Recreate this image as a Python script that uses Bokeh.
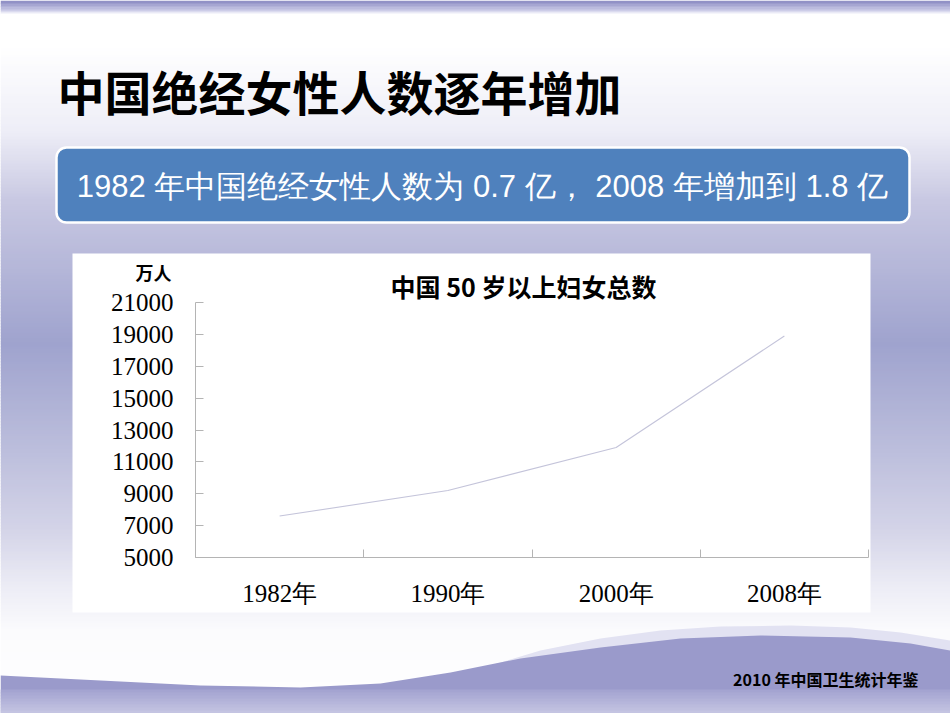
from bokeh.plotting import figure
from bokeh.models import Range1d, LinearAxis, FixedTicker
from bokeh.core.properties import value
from bokeh.embed import file_html
from bokeh.resources import INLINE

# ---------------- data ----------------
categories = ["1982年", "1990年", "2000年", "2008年"]
values = [7600, 9200, 11900, 18900]          # 万人
y_ticks = [5000, 7000, 9000, 11000, 13000, 15000, 17000, 19000, 21000]

slide_title = "中国绝经女性人数逐年增加"
banner_text = "1982 年中国绝经女性人数为 0.7 亿， 2008 年增加到 1.8 亿"
chart_title = "中国 50 岁以上妇女总数"
unit_label = "万人"
source_note = "2010 年中国卫生统计年鉴"

# ---------------- geometry (pixels) ----------------
W, H = 950, 713
FL, FR, FT, FB = 195, 868, 302, 557          # chart plot area on the slide
YMIN, YMAX = y_ticks[0], y_ticks[-1]
NCAT = len(categories)

# chart ranges extended so that the chart area lands on FL..FR / FT..FB
sx = NCAT / (FR - FL)
sy = (YMAX - YMIN) / (FB - FT)
cx = Range1d(0 - FL * sx, NCAT + (W - FR) * sx)
cy = Range1d(YMIN - (H - FB) * sy, YMAX + FT * sy)


def hex2rgb(h):
    h = h.lstrip("#")
    return tuple(int(h[i:i + 2], 16) for i in (0, 2, 4))


def mix(c1, c2, t):
    a, b = hex2rgb(c1), hex2rgb(c2)
    return "#%02x%02x%02x" % tuple(int(round(a[i] + (b[i] - a[i]) * t)) for i in range(3))


def bands(stops, step=3):
    tops, bots, cols = [], [], []
    for (y0, c0), (y1, c1) in zip(stops[:-1], stops[1:]):
        y = y0
        while y < y1:
            ye = min(y + step, y1)
            t = ((y + ye) / 2 - y0) / max(y1 - y0, 1)
            tops.append(y)
            bots.append(ye + 0.7)
            cols.append(mix(c0, c1, t))
            y = ye
    return tops, bots, cols


p = figure(width=W, height=H, output_backend="svg", toolbar_location=None,
           title=None, x_range=Range1d(0, W), y_range=Range1d(H, 0),
           x_axis_type=None, y_axis_type=None, min_border=0)
p.extra_x_ranges = {"cx": cx}
p.extra_y_ranges = {"cy": cy}
p.outline_line_color = None
p.background_fill_color = "white"
p.border_fill_color = "white"

# ---------------- slide background ----------------
bg_stops = [(0, "#8686c0"), (11, "#d4d4ec"), (13, "#ffffff"), (45, "#ffffff"),
            (130, "#eeeef7"), (200, "#c8c8e2"), (343, "#9fa3ce"), (450, "#bcbedc"),
            (530, "#d4d4e8"), (590, "#eeeef6"), (630, "#fbfbfd"), (713, "#ffffff")]
t_, b_, c_ = bands(bg_stops)
p.quad(left=0, right=W, top=t_, bottom=b_, fill_color=c_, line_color=None)

# light band above the wave (right side)
p.patch([420, 480, 540, 600, 660, 720, 790, 850, 900, 950, 950, 420],
        [690, 668, 650, 638, 630, 626, 625, 627, 632, 640, 713, 713],
        fill_color="#e2e2f2", line_color=None)
# purple wave
p.patch([0, 100, 200, 300, 380, 450, 520, 600, 680, 760, 850, 910, 950, 950, 0],
        [675, 680, 685, 687, 683, 672, 658, 647, 638, 635, 637, 643, 650, 713, 713],
        fill_color="#9a9acb", line_color=None)
t_, b_, c_ = bands([(689, "#a2a2d0"), (713, "#c6c6e3")])
p.quad(left=0, right=W, top=t_, bottom=b_, fill_color=c_, line_color=None)

# white chart panel
p.quad(left=72, right=870, top=253, bottom=612, fill_color="white", line_color=None)

# blue banner
p.quad(left=56, right=909, top=147, bottom=222, border_radius=10,
       fill_color="#4f81bd", line_color="white", line_width=2.5)

# ---------------- axes ----------------
axis_col = "#b4b4b4"
yaxis = LinearAxis(x_range_name="cx", y_range_name="cy", fixed_location=0,
                   bounds=(YMIN, YMAX),
                   ticker=FixedTicker(ticks=y_ticks),
                   major_tick_in=8, major_tick_out=0,
                   minor_tick_line_color=None,
                   axis_line_color=axis_col, major_tick_line_color=axis_col,
                   major_label_text_font="Liberation Serif",
                   major_label_text_font_size="25px",
                   major_label_text_color="black",
                   major_label_standoff=22)
p.add_layout(yaxis, "left")

bounds_ticks = list(range(NCAT + 1))
xb = LinearAxis(x_range_name="cx", y_range_name="cy", fixed_location=YMIN,
                bounds=(0, NCAT),
                ticker=FixedTicker(ticks=bounds_ticks),
                major_label_overrides={t: "" for t in bounds_ticks},
                major_tick_in=8, major_tick_out=0, minor_tick_line_color=None,
                axis_line_color=axis_col, major_tick_line_color=axis_col,
                major_label_standoff=0)
p.add_layout(xb, "below")

centers = [i + 0.5 for i in range(NCAT)]
xl = LinearAxis(x_range_name="cx", y_range_name="cy", fixed_location=YMIN,
                ticker=FixedTicker(ticks=centers),
                major_label_overrides={c: lab for c, lab in zip(centers, categories)},
                major_tick_line_color=None, minor_tick_line_color=None,
                axis_line_color=None,
                major_label_text_font="Liberation Serif",
                major_label_text_font_size="25px",
                major_label_text_color="black",
                major_label_standoff=16)
p.add_layout(xl, "below")

# ---------------- data line ----------------
p.line(centers, values, x_range_name="cx", y_range_name="cy",
       line_color="#c4c4da", line_width=1.1)

# ---------------- texts ----------------
p.text(x=[57], y=[90], text=[slide_title], text_font=value("Noto Sans CJK SC"),
       text_font_size="47px", text_font_style="bold", text_color="black",
       text_align="left", text_baseline="middle")
p.text(x=[482], y=[186], text=[banner_text], text_font=value("Liberation Sans"),
       text_font_size="31px", text_color="white",
       text_align="center", text_baseline="middle")
p.text(x=[523], y=[285], text=[chart_title], text_font=value("Noto Sans CJK SC"),
       text_font_size="25px", text_font_style="bold", text_color="black",
       text_align="center", text_baseline="middle")
p.text(x=[153], y=[271], text=[unit_label], text_font=value("Noto Sans CJK SC"),
       text_font_size="18px", text_font_style="bold", text_color="black",
       text_align="center", text_baseline="middle")
p.text(x=[918], y=[678], text=[source_note], text_font=value("Noto Sans CJK SC"),
       text_font_size="16px", text_font_style="bold", text_color="black",
       text_align="right", text_baseline="middle")

open("out.html", "w").write(file_html(p, INLINE))
